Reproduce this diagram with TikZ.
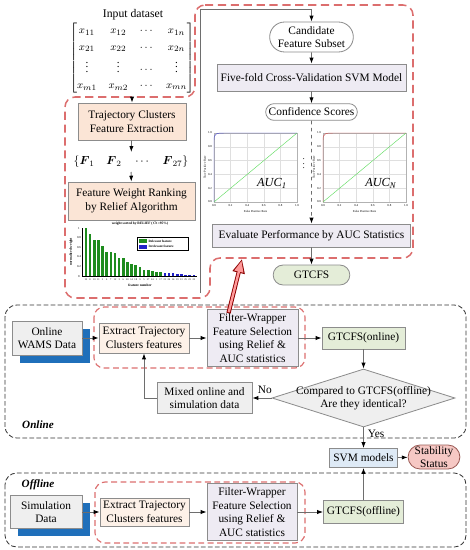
\documentclass[tikz,border=0pt]{standalone}
\usepackage{amsmath}
\usepackage{fontspec}
\setmainfont{Liberation Serif}
\usetikzlibrary{arrows.meta,positioning,shapes.geometric,shapes.misc,shadows,calc}

\definecolor{boxline}{HTML}{8C8C8C}
\definecolor{linegray}{HTML}{6E6E6E}
\definecolor{peach}{HTML}{FBE5D6}
\definecolor{peachlt}{HTML}{FDF1E8}
\definecolor{lavender}{HTML}{EEEBF3}
\definecolor{palegreen}{HTML}{E4EDD8}
\definecolor{palegray}{HTML}{EFEFEF}
\definecolor{paleblue}{HTML}{DEEAF6}
\definecolor{palepink}{HTML}{F6C8C4}
\definecolor{pinkline}{HTML}{9A5A55}
\definecolor{dashred}{HTML}{DC6E6E}
\definecolor{wamsblue}{HTML}{1F6FBA}
\definecolor{relgreen}{HTML}{1E8C1E}
\definecolor{irrblue}{HTML}{2020C8}
\definecolor{rocblue}{HTML}{5050D0}
\definecolor{rocred}{HTML}{D05050}
\definecolor{rocgreen}{HTML}{66DD66}

\begin{document}
\begin{tikzpicture}[x=0.03cm, y=-0.03cm,
    txt/.style={font=\fontsize{9.7}{11.5}\selectfont},
    box/.style={txt, draw=boxline, line width=0.7pt, align=center, inner sep=1pt},
    peachbox/.style={box, fill=peach},
    peachltbox/.style={box, fill=peachlt},
    lavbox/.style={box, fill=lavender},
    greenbox/.style={box, fill=palegreen},
    graybox/.style={box, fill=palegray},
    bluebox/.style={box, fill=paleblue},
    stadium/.style={box, rounded rectangle, fill=white},
    shadowed/.style={drop shadow={shadow xshift=0.23cm, shadow yshift=-0.23cm, fill=wamsblue, opacity=1}},
    conn/.style={draw=linegray, line width=0.7pt, -{Latex[length=5pt,width=3.6pt,color=black]}},
    reddash/.style={draw=dashred, line width=1.3pt, dash pattern=on 7pt off 4pt, rounded corners=0.3cm},
    redinner/.style={draw=dashred, line width=1pt, dash pattern=on 5pt off 3pt, rounded corners=0.3cm},
    blackdash/.style={draw=black!80, line width=0.7pt, dash pattern=on 4pt off 2pt, rounded corners=0.35cm},
    tiny/.style={font=\fontsize{2.6}{3}\selectfont, inner sep=0.3pt},
    partlabel/.style={font=\fontsize{9.5}{11}\selectfont\bfseries\itshape}]

  \useasboundingbox (0,0) rectangle (470,550);

  % frames
  \draw[reddash] (195,5) -- (413,5) -- (413,258) -- (210,258) -- (210,298)
    -- (65,298) -- (65,97) -- (195,97) -- cycle;
  \draw[blackdash] (5,305) rectangle (466,438);
  \draw[blackdash] (5,473) rectangle (466,547);
  \draw[redinner] (94,307) rectangle (305,368);
  \draw[redinner] (95,482) rectangle (305,543);

  % input data and feature ranking
  \node[font=\fontsize{10}{12}\selectfont] (title) at (133,15) {Input dataset};
  \node[font=\fontsize{9.5}{11}\selectfont] (mat) at (132,58) {\renewcommand{\arraystretch}{1.25}$\begin{bmatrix}
      x_{11} & x_{12} & \cdots & x_{1n}\\
      x_{21} & x_{22} & \cdots & x_{2n}\\
      \vdots & \vdots & \cdots & \vdots\\
      x_{m1} & x_{m2} & \cdots & x_{mn}
    \end{bmatrix}$};
  \node[peachbox, minimum width=3.24cm, minimum height=1.11cm] (traj) at (132,121.5) {Trajectory Clusters\\Feature Extraction};
  \node (feats) at (131,162) {$\left\{\boldsymbol{F}_{1}\quad\boldsymbol{F}_{2}\quad\cdots\quad\boldsymbol{F}_{27}\right\}$};
  \node[peachbox, minimum width=3.81cm, minimum height=1.14cm] (rank) at (131.5,201) {Feature Weight Ranking\\by Relief Algorithm};

  \draw[conn] (mat) -- (traj);
  \draw[conn] (traj) -- (feats);
  \draw[conn] (feats) -- (rank);

  % relief bar chart
  \node[tiny, font=\fontsize{3}{3.5}\selectfont\bfseries] (charttitle) at (140,224) {weight sorted by RELIEF ($\alpha$=95\%)};
  \foreach \h [count=\i] in {1.00,0.88,0.74,0.74,0.63,0.50,0.50,0.48,0.37,0.37,0.30,0.25,0.23,0.18,0.13,0.12,0.10,0.08,0.08}
    \fill[relgreen] (80.5+\i*4.15,276) rectangle ++(2.6,-48*\h);
  \foreach \h [count=\i from 20] in {0.06,0.06,0.06,0.05,0.04,0.03,0.02,0.02}
    \fill[irrblue] (80.5+\i*4.15,276) rectangle ++(2.6,-48*\h);
  \draw[line width=0.2pt] (82,228) -- (82,276) -- (197,276);
  \foreach \v in {0,0.2,0.4,0.6,0.8,1}
    \node[tiny] at (79,276-48*\v) {\v};
  \foreach \f [count=\i] in {15,8,10,11,2,4,7,12,3,6,20,14,18,9,5,27,24,1,17,21,26,16,19,13,25,23,22}
    \node[tiny, font=\fontsize{2.2}{2.5}\selectfont] at (81.8+\i*4.15,279.5) {\f};
  \node[tiny, rotate=90, font=\fontsize{3}{3.5}\selectfont\bfseries] (ylab) at (71,252) {normalized weight};
  \node[tiny, font=\fontsize{3}{3.5}\selectfont\bfseries] (xlab) at (140,285) {feature number};
  \draw[line width=0.2pt, fill=white] (137,237) rectangle (188,250);
  \fill[relgreen] (139,239) rectangle (147,243);
  \fill[irrblue] (139,244.5) rectangle (147,248.5);
  \node[tiny, anchor=west, font=\fontsize{2.8}{3}\selectfont\bfseries] at (148,241) {Relevant feature};
  \node[tiny, anchor=west, font=\fontsize{2.8}{3}\selectfont\bfseries] at (148,246.5) {Irrelevant feature};

  % wrapper evaluation
  \node[stadium, minimum width=2.58cm, minimum height=0.9cm] (cand) at (311.5,37) {Candidate\\Feature Subset};
  \node[lavbox, minimum width=5.67cm, minimum height=0.81cm] (five) at (311.5,77.5) {Five-fold Cross-Validation SVM Model};
  \node[stadium, minimum width=2.82cm, minimum height=0.5cm] (conf) at (311.5,112) {Confidence Scores};
  \node[lavbox, minimum width=5.94cm, minimum height=0.69cm] (eval) at (311.5,235.5) {Evaluate Performance by AUC Statistics};
  \node[stadium, fill=palegreen, minimum width=2.37cm, minimum height=0.6cm] (gtcfs) at (311.5,275) {GTCFS};

  \coordinate (chartout) at (200,293);
  \draw[conn] (chartout) |- ($(cand.north)+(0,-12)$) -- (cand.north);
  \draw[conn] (cand) -- (five);
  \draw[conn] (five) -- (conf);
  \draw[conn, dashed] (conf) -- (eval);
  \draw[conn] (eval) -- (gtcfs);

  % ROC curves
  \foreach \ox/\col/\sub in {214/rocblue/1, 323/rocred/N} {
    \foreach \t in {0.2,0.4,0.6,0.8} {
      \draw[gray!25, line width=0.2pt] (\ox+83*\t,133) -- (\ox+83*\t,202);
      \draw[gray!25, line width=0.2pt] (\ox,202-69*\t) -- (\ox+83,202-69*\t);
    }
    \draw[gray!60, line width=0.2pt] (\ox,133) rectangle (\ox+83,202);
    \draw[rocgreen, line width=0.4pt] (\ox,202) -- (\ox+83,133);
    \draw[\col, line width=0.4pt] (\ox,202) -- (\ox,140) .. controls (\ox,133) and (\ox+3,133) .. (\ox+10,133) -- (\ox+83,133);
    \foreach \t in {0.0,0.2,0.4,0.6,0.8,1.0} {
      \node[tiny] at (\ox+83*\t,206) {\t};
      \node[tiny] at (\ox-4,202-69*\t) {\t};
    }
    \node[tiny] at (\ox+41.5,211) {False Positive Rate};
    \node[tiny, rotate=90] at (\ox-9,167.5) {True Positive Rate};
    \node[font=\fontsize{10.5}{12}\selectfont] at (\ox+58,183) {\textit{AUC}\textsubscript{\textit{\sub}}};
  }
  \node[rotate=90, font=\fontsize{8}{9}\selectfont] (dots) at (304,163) {$\cdots$};

  % online part
  \node[graybox, shadowed, minimum width=2.1cm, minimum height=1.02cm] (wams) at (47,338) {Online\\WAMS Data};
  \node[peachltbox, minimum width=2.7cm, minimum height=0.9cm] (onextract) at (144,338) {Extract Trajectory\\Clusters features};
  \node[lavbox, minimum width=2.73cm, minimum height=1.71cm] (onfilter) at (252.5,338) {Filter-Wrapper\\Feature Selection\\using Relief \&\\AUC statistics};
  \node[greenbox, minimum width=2.49cm, minimum height=0.66cm] (ongtcfs) at (363.5,338) {GTCFS(online)};
  \node[diamond, draw=boxline, fill=palegray, line width=0.7pt, minimum width=5.49cm, minimum height=1.74cm, inner sep=0pt] (cmp) at (363.5,398) {};
  \node[txt, align=center] (cmptext) at (cmp) {Compared to GTCFS(offline)\\Are they identical?};
  \node[graybox, minimum width=2.85cm, minimum height=0.93cm] (mixed) at (204.5,398) {Mixed online and\\simulation data};
  \node[partlabel] (onlinelab) at (38,425) {Online};

  \draw[conn] (wams) -- (onextract);
  \draw[conn] (onextract) -- (onfilter);
  \draw[conn] (onfilter) -- (ongtcfs);
  \draw[conn] (ongtcfs) -- (cmp);
  \draw[conn] (cmp.west) -- node[txt, above, pos=0.35] {No} (mixed);
  \draw[conn] (mixed.west) -| (onextract.south);

  % result
  \node[bluebox, minimum width=2.04cm, minimum height=0.57cm] (svm) at (363.5,458) {SVM models};
  \node[stadium, fill=palepink, draw=pinkline, minimum width=1.44cm, minimum height=0.72cm, inner sep=0pt] (stab) at (434,457) {Stability\\Status};
  \draw[conn] (cmp.south) -- node[txt, right, pos=0.3] {Yes} (svm);
  \draw[conn] (svm) -- (stab);

  % offline part
  \node[graybox, shadowed, minimum width=2.16cm, minimum height=0.99cm] (sim) at (46,512) {Simulation\\Data};
  \node[peachltbox, minimum width=2.67cm, minimum height=0.84cm] (offextract) at (144.5,512) {Extract Trajectory\\Clusters features};
  \node[lavbox, minimum width=2.7cm, minimum height=1.71cm] (offfilter) at (252,512) {Filter-Wrapper\\Feature Selection\\using Relief \&\\AUC statistics};
  \node[greenbox, minimum width=2.4cm, minimum height=0.69cm] (offgtcfs) at (363.5,512) {GTCFS(offline)};
  \node[partlabel] (offlinelab) at (38,485) {Offline};

  \draw[conn] (sim) -- (offextract);
  \draw[conn] (offextract) -- (offfilter);
  \draw[conn] (offfilter) -- (offgtcfs);
  \draw[conn] (offgtcfs) -- (svm);

  % feedback into the filter-wrapper stage
  \coordinate (hit) at (242,259);
  \draw[draw=red!55!black, line width=3.6pt, -{Triangle[length=12pt,width=10pt]}] ($(onfilter.north)+(-24,4)$) -- (hit);
  \draw[draw=red!40, line width=2pt, shorten <=0.8pt, shorten >=1.6pt, -{Triangle[length=9.5pt,width=7.4pt]}] ($(onfilter.north)+(-24,4)$) -- (hit);
\end{tikzpicture}
\end{document}
